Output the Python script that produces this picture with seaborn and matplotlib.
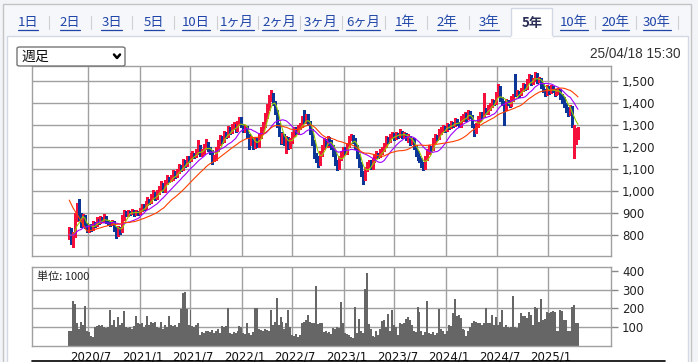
import matplotlib
matplotlib.use('Agg')
import matplotlib.pyplot as plt
from matplotlib.patches import Rectangle, FancyBboxPatch
from matplotlib.lines import Line2D
from matplotlib.transforms import ScaledTranslation
from matplotlib.ticker import FuncFormatter
import numpy as np
import pandas as pd
import seaborn as sns

# ---- weekly data (yen / thousand shares), last week ending 2025-04-18 ----
opens = [
    790, 820, 780, 800, 880, 935, 880, 850, 880, 845,
    825, 840, 830, 855, 845, 870, 860, 875, 865, 880,
    860, 855, 850, 860, 830, 800, 830, 820, 880, 900,
    895, 905, 900, 910, 895, 905, 900, 915, 930, 925,
    945, 960, 950, 975, 990, 970, 995, 1010, 1030, 1000,
    1040, 1060, 1050, 1060, 1080, 1070, 1090, 1110, 1100, 1130,
    1120, 1150, 1140, 1160, 1170, 1160, 1180, 1200, 1170, 1180,
    1200, 1220, 1190, 1180, 1140, 1150, 1190, 1220, 1240, 1230,
    1260, 1250, 1280, 1270, 1290, 1300, 1280, 1310, 1330, 1300,
    1280, 1290, 1250, 1220, 1240, 1200, 1230, 1210, 1250, 1280,
    1300, 1340, 1380, 1420, 1440, 1400, 1360, 1300, 1260, 1230,
    1250, 1220, 1240, 1200, 1230, 1260, 1280, 1270, 1290, 1300,
    1330, 1320, 1340, 1310, 1270, 1220, 1160, 1140, 1130, 1170,
    1200, 1230, 1210, 1240, 1220, 1200, 1170, 1130, 1110, 1150,
    1170, 1190, 1180, 1210, 1240, 1250, 1230, 1200, 1160, 1120,
    1080, 1060, 1100, 1120, 1130, 1110, 1140, 1160, 1170, 1160,
    1180, 1190, 1210, 1240, 1230, 1250, 1260, 1240, 1260, 1250,
    1270, 1250, 1260, 1240, 1240, 1220, 1230, 1200, 1170, 1150,
    1140, 1120, 1110, 1150, 1180, 1200, 1190, 1230, 1250, 1240,
    1270, 1280, 1290, 1280, 1300, 1290, 1310, 1300, 1320, 1310,
    1300, 1330, 1340, 1350, 1330, 1360, 1340, 1300, 1270, 1300,
    1330, 1350, 1340, 1370, 1360, 1380, 1390, 1410, 1400, 1440,
    1470, 1420, 1400, 1380, 1410, 1400, 1390, 1420, 1500, 1440,
    1450, 1440, 1460, 1480, 1470, 1500, 1520, 1490, 1510, 1530,
    1500, 1510, 1480, 1460, 1440, 1470, 1450, 1470, 1460, 1440,
    1450, 1460, 1430, 1420, 1390, 1370, 1350, 1380, 1200, 1220, 1240,
]
highs = [
    835, 830, 815, 900, 945, 965, 900, 895, 890, 855,
    850, 850, 865, 860, 880, 875, 885, 880, 895, 885,
    870, 865, 870, 865, 835, 840, 835, 890, 915, 910,
    915, 910, 920, 915, 915, 910, 925, 940, 940, 955,
    975, 965, 985, 1005, 995, 1005, 1025, 1045, 1035, 1050,
    1075, 1065, 1075, 1095, 1090, 1100, 1125, 1120, 1145, 1140,
    1160, 1160, 1175, 1180, 1175, 1190, 1230, 1210, 1190, 1215,
    1235, 1225, 1200, 1185, 1165, 1200, 1230, 1255, 1250, 1275,
    1270, 1295, 1290, 1305, 1315, 1305, 1320, 1336, 1335, 1305,
    1300, 1295, 1260, 1250, 1245, 1240, 1240, 1260, 1290, 1315,
    1355, 1395, 1435, 1460, 1445, 1410, 1370, 1310, 1270, 1265,
    1260, 1250, 1245, 1240, 1270, 1290, 1290, 1300, 1310, 1340,
    1370, 1350, 1350, 1320, 1280, 1230, 1175, 1160, 1180, 1210,
    1240, 1235, 1250, 1245, 1230, 1210, 1180, 1140, 1160, 1180,
    1200, 1200, 1220, 1250, 1260, 1255, 1240, 1210, 1170, 1130,
    1090, 1110, 1130, 1140, 1140, 1150, 1170, 1180, 1175, 1190,
    1200, 1220, 1250, 1245, 1260, 1270, 1265, 1270, 1265, 1280,
    1275, 1270, 1265, 1260, 1250, 1240, 1240, 1210, 1180, 1160,
    1150, 1130, 1160, 1190, 1210, 1205, 1240, 1260, 1255, 1280,
    1290, 1300, 1295, 1310, 1305, 1320, 1315, 1330, 1325, 1315,
    1340, 1350, 1360, 1355, 1370, 1365, 1345, 1305, 1310, 1340,
    1360, 1360, 1445, 1375, 1390, 1400, 1420, 1415, 1450, 1486,
    1475, 1425, 1410, 1420, 1415, 1405, 1430, 1440, 1530, 1460,
    1455, 1470, 1490, 1485, 1510, 1530, 1525, 1515, 1540, 1535,
    1520, 1515, 1490, 1465, 1480, 1475, 1480, 1475, 1465, 1460,
    1470, 1465, 1440, 1425, 1400, 1380, 1390, 1385, 1300, 1285, 1290,
]
lows = [
    780, 760, 745, 790, 865, 870, 835, 840, 830, 815,
    815, 820, 825, 835, 840, 850, 855, 860, 860, 855,
    845, 840, 845, 820, 785, 795, 805, 815, 870, 885,
    885, 890, 895, 885, 890, 890, 895, 910, 915, 920,
    935, 940, 945, 965, 960, 965, 985, 1000, 995, 995,
    1030, 1040, 1045, 1050, 1060, 1065, 1080, 1090, 1095, 1110,
    1115, 1130, 1135, 1150, 1150, 1155, 1170, 1160, 1160, 1170,
    1190, 1180, 1170, 1125, 1135, 1140, 1180, 1210, 1220, 1225,
    1240, 1245, 1260, 1265, 1280, 1270, 1275, 1300, 1290, 1270,
    1270, 1240, 1190, 1210, 1190, 1195, 1200, 1200, 1240, 1270,
    1290, 1330, 1370, 1410, 1390, 1350, 1290, 1250, 1215, 1220,
    1210, 1175, 1190, 1195, 1220, 1250, 1260, 1260, 1280, 1290,
    1310, 1310, 1300, 1260, 1210, 1150, 1130, 1110, 1120, 1160,
    1190, 1200, 1200, 1210, 1190, 1160, 1120, 1095, 1100, 1140,
    1160, 1170, 1170, 1200, 1230, 1220, 1190, 1150, 1110, 1070,
    1030, 1050, 1090, 1110, 1100, 1100, 1130, 1150, 1150, 1155,
    1170, 1180, 1200, 1220, 1225, 1240, 1230, 1235, 1240, 1245,
    1240, 1245, 1230, 1225, 1210, 1215, 1190, 1160, 1140, 1130,
    1110, 1095, 1100, 1140, 1170, 1180, 1185, 1220, 1230, 1235,
    1260, 1270, 1270, 1275, 1280, 1285, 1290, 1295, 1300, 1290,
    1290, 1320, 1335, 1320, 1325, 1330, 1290, 1250, 1265, 1290,
    1320, 1330, 1335, 1350, 1350, 1370, 1380, 1390, 1395, 1430,
    1410, 1390, 1300, 1370, 1390, 1380, 1385, 1410, 1430, 1435,
    1425, 1435, 1455, 1460, 1465, 1495, 1480, 1485, 1500, 1490,
    1495, 1470, 1450, 1430, 1435, 1440, 1445, 1450, 1430, 1435,
    1440, 1420, 1400, 1380, 1360, 1340, 1345, 1290, 1150, 1215, 1235,
]
closes = [
    820, 780, 800, 880, 930, 880, 850, 880, 845, 825,
    840, 830, 855, 845, 870, 860, 875, 865, 880, 860,
    855, 850, 860, 830, 800, 830, 815, 880, 900, 895,
    905, 900, 910, 895, 905, 900, 915, 930, 925, 945,
    960, 950, 975, 990, 970, 995, 1010, 1030, 1000, 1040,
    1060, 1050, 1060, 1080, 1070, 1090, 1110, 1100, 1130, 1120,
    1150, 1140, 1160, 1170, 1160, 1180, 1200, 1170, 1180, 1200,
    1220, 1190, 1180, 1140, 1150, 1190, 1220, 1240, 1230, 1260,
    1250, 1280, 1270, 1290, 1300, 1280, 1310, 1330, 1300, 1280,
    1290, 1250, 1220, 1240, 1200, 1230, 1210, 1250, 1280, 1300,
    1340, 1380, 1420, 1440, 1400, 1360, 1300, 1260, 1230, 1250,
    1220, 1240, 1200, 1230, 1260, 1280, 1270, 1290, 1300, 1330,
    1320, 1340, 1310, 1270, 1220, 1160, 1140, 1130, 1170, 1200,
    1230, 1210, 1240, 1220, 1200, 1170, 1130, 1110, 1150, 1170,
    1190, 1180, 1210, 1240, 1250, 1230, 1200, 1160, 1120, 1080,
    1060, 1100, 1120, 1130, 1110, 1140, 1160, 1170, 1160, 1180,
    1190, 1210, 1240, 1230, 1250, 1260, 1240, 1260, 1250, 1270,
    1250, 1260, 1240, 1240, 1220, 1230, 1200, 1170, 1150, 1140,
    1120, 1110, 1150, 1180, 1200, 1190, 1230, 1250, 1240, 1270,
    1280, 1290, 1280, 1300, 1290, 1310, 1300, 1320, 1310, 1300,
    1330, 1340, 1350, 1330, 1360, 1340, 1300, 1270, 1300, 1330,
    1350, 1340, 1370, 1360, 1380, 1390, 1410, 1400, 1440, 1470,
    1420, 1400, 1380, 1410, 1400, 1390, 1420, 1430, 1440, 1450,
    1440, 1460, 1480, 1470, 1500, 1520, 1490, 1510, 1530, 1500,
    1510, 1480, 1460, 1440, 1470, 1450, 1470, 1460, 1440, 1450,
    1460, 1430, 1420, 1390, 1370, 1350, 1380, 1300, 1290, 1270, 1275,
]
volumes = [
    80, 80, 240, 225, 120, 90, 130, 110, 215, 80,
    75, 55, 50, 100, 105, 110, 105, 110, 100, 95,
    100, 190, 110, 140, 100, 155, 110, 125, 185, 100,
    95, 100, 90, 105, 158, 120, 115, 120, 100, 110,
    158, 110, 130, 125, 130, 100, 95, 130, 90, 110,
    100, 158, 110, 105, 110, 100, 120, 195, 280, 290,
    195, 110, 190, 105, 100, 110, 120, 60, 75, 70,
    80, 80, 75, 85, 70, 80, 90, 70, 105, 100,
    105, 200, 70, 65, 75, 70, 80, 105, 100, 70,
    65, 125, 70, 60, 75, 200, 200, 90, 85, 80,
    90, 85, 80, 190, 110, 130, 255, 110, 155, 130,
    90, 120, 190, 100, 60, 55, 65, 50, 60, 125,
    130, 140, 165, 130, 120, 125, 320, 115, 125, 120,
    75, 80, 70, 75, 65, 95, 90, 100, 95, 235,
    120, 70, 65, 60, 50, 45, 210, 70, 145, 80,
    70, 305, 390, 115, 90, 55, 50, 80, 60, 90,
    135, 140, 100, 170, 80, 190, 110, 100, 60, 120,
    115, 120, 145, 155, 140, 110, 80, 75, 210, 180,
    80, 60, 75, 240, 70, 65, 75, 60, 70, 195,
    90, 80, 65, 80, 110, 105, 175, 250, 160, 165,
    150, 90, 85, 55, 80, 100, 125, 135, 130, 120,
    125, 110, 120, 200, 125, 125, 165, 110, 155, 110,
    130, 190, 100, 110, 100, 95, 100, 265, 100, 95,
    120, 175, 160, 160, 150, 180, 165, 110, 210, 200,
    130, 250, 140, 145, 180, 175, 180, 185, 180, 80,
    80, 190, 185, 140, 140, 80, 80, 210, 220, 125, 120,
]
# closes before the displayed window, only used to seed the moving averages
pre_closes = [1250, 1270, 1260, 1280, 1250, 1265, 1255, 1270, 1240,
              810, 790, 800, 780, 805, 795, 810, 790, 800, 815, 785,
              800, 810, 790, 805, 795]
ma_windows = [5, 13, 26]

price_ticks = [800, 900, 1000, 1100, 1200, 1300, 1400, 1500]
volume_ticks = [100, 200, 300, 400]
date_ticks = ['2020-07-01', '2021-01-01', '2021-07-01', '2022-01-01', '2022-07-01',
              '2023-01-01', '2023-07-01', '2024-01-01', '2024-07-01', '2025-01-01']
date_labels = ['2020/7', '2021/1', '2021/7', '2022/1', '2022/7',
               '2023/1', '2023/7', '2024/1', '2024/7', '2025/1']
tab_labels = ['1日', '2日', '3日', '5日', '10日', '1ヶ月', '2ヶ月', '3ヶ月', '6ヶ月',
              '1年', '2年', '3年', '5年', '10年', '20年', '30年']
active_tab = '5年'
timestamp = '25/04/18 15:30'

n = len(closes)
assert len(opens) == n and len(highs) == n and len(lows) == n and len(volumes) == n, \
    (len(opens), len(highs), len(lows), len(closes), len(volumes))

df = pd.DataFrame({
    'date': pd.date_range(end='2025-04-18', periods=n, freq='W-FRI'),
    'open': opens, 'high': highs, 'low': lows, 'close': closes, 'volume': volumes,
})
all_close = pd.Series(pre_closes + closes, dtype=float)
for w in ma_windows:
    df[f'ma{w}'] = all_close.rolling(w).mean().iloc[-n:].to_numpy()
df['up'] = df['close'] >= df['open']

# ---- figure / layout (pixel helpers, y measured from the top) ----
W, H = 698, 362
sns.set_style('white')
plt.rcParams['font.family'] = ['DejaVu Sans', 'Noto Sans CJK JP']
fig = plt.figure(figsize=(W / 100, H / 100), dpi=100)
fig.patch.set_facecolor('white')


def fx(x):
    return x / W


def fy(y):
    return 1 - y / H


def rect(x0, y0, x1, y1, **kw):
    r = Rectangle((fx(x0), fy(y1)), fx(x1) - fx(x0), fy(y0) - fy(y1),
                  transform=fig.transFigure, zorder=-5, **kw)
    fig.add_artist(r)


def hline(x0, x1, y, **kw):
    fig.add_artist(Line2D([fx(x0), fx(x1)], [fy(y), fy(y)], transform=fig.transFigure, **kw))


def vline(x, y0, y1, **kw):
    fig.add_artist(Line2D([fx(x), fx(x)], [fy(y0), fy(y1)], transform=fig.transFigure, **kw))


# page frame, tab strip, content panel
rect(0, 0, W, H, facecolor='#f3f4f7', edgecolor='none')
rect(3, 4, 691, H + 2, facecolor='#f6f7fa', edgecolor='#c4c4c4', linewidth=1)
rect(7, 36, 688, H + 2, facecolor='white', edgecolor='#d3d9e4', linewidth=1)
rect(511, 8, 552, 37, facecolor='white', edgecolor='#d3d9e4', linewidth=1)
hline(511.5, 551.5, 36.5, color='white', lw=1.5, zorder=-4)

tab_x = [28, 70, 111.5, 154, 196, 237, 279, 321, 363, 405.5, 447, 489, 532, 574, 615.5, 657]
sep_x = [49, 91, 132, 174, 217, 258, 300, 342, 385, 427, 469, 595, 636, 678]
renderer = fig.canvas.get_renderer()
for lab, x in zip(tab_labels, tab_x):
    if lab == active_tab:
        fig.text(fx(x), fy(22.5), lab, ha='center', va='center', fontsize=9.5,
                 fontweight='bold', color='#2b2f55', family=['Noto Sans CJK JP', 'DejaVu Sans'])
    else:
        t = fig.text(fx(x), fy(22.5), lab, ha='center', va='center', fontsize=9.5,
                     color='#1f45a8', family=['Noto Sans CJK JP', 'DejaVu Sans'])
        bb = t.get_window_extent(renderer)
        hline(bb.x0, bb.x1, 29.5, color='#1f45a8', lw=0.9)
for x in sep_x:
    vline(x, 16, 29, color='#d0d0d0', lw=0.8)

# dropdown
box = FancyBboxPatch((fx(17), fy(66)), fx(125) - fx(17), fy(47) - fy(66),
                     boxstyle='round,pad=0,rounding_size=0.004', transform=fig.transFigure,
                     facecolor='white', edgecolor='#767676', linewidth=1, zorder=1)
fig.add_artist(box)
fig.text(fx(21), fy(56.5), '週足', ha='left', va='center', fontsize=10,
         color='#111111', family=['Noto Sans CJK JP', 'DejaVu Sans'])
fig.add_artist(Line2D([fx(114), fx(117), fx(120)], [fy(54.5), fy(58), fy(54.5)],
                      transform=fig.transFigure, color='black', lw=1.8))
fig.text(fx(680), fy(54), timestamp, ha='right', va='center', fontsize=9.8,
         color='#333333', family='Liberation Sans')

# ---- price panel ----
grid_c = '#a0a0a0'
red, blue = '#f5103c', '#0b3596'
ma_colors = ['#9acd00', '#a000ff', '#ff4000']
xlim = (pd.Timestamp('2019-12-13'), pd.Timestamp('2025-08-14'))
gdates = pd.to_datetime(date_ticks)

ax_p = fig.add_axes([fx(32), fy(256), fx(611) - fx(32), (256 - 66) / H])
ax_v = fig.add_axes([fx(32), fy(346), fx(611) - fx(32), (346 - 267) / H])

for ax in (ax_p, ax_v):
    ax.set_xlim(xlim)
    ax.set_facecolor('white')
    for s in ax.spines.values():
        s.set_color(grid_c)
        s.set_linewidth(1)
    ax.set_xticks(gdates)
    ax.grid(True, color=grid_c, linewidth=1)
    ax.set_axisbelow(True)
    ax.yaxis.tick_right()
    ax.tick_params(axis='y', direction='out', length=5, width=1, color='#888888',
                   labelsize=8.5, labelcolor='#222222', pad=3)

cols = np.where(df['up'], red, blue)
body_lo = np.minimum(df['open'], df['close'])
body_h = np.maximum(np.abs(df['close'] - df['open']), 3)
ax_p.vlines(df['date'], df['low'], df['high'], colors=cols, linewidth=1.0,
            antialiased=False, zorder=2)
ax_p.bar(df['date'], body_h, bottom=body_lo, width=6.5, color=cols, linewidth=0,
         antialiased=False, zorder=2)
for w, c in zip(ma_windows, ma_colors):
    sns.lineplot(x=df['date'], y=df[f'ma{w}'], ax=ax_p, color=c, linewidth=0.8,
                 errorbar=None, zorder=3)
ax_p.set_ylim(705, 1568)
ax_p.set_yticks(price_ticks)
ax_p.yaxis.set_major_formatter(FuncFormatter(lambda v, p: f'{int(v):,}'))
ax_p.tick_params(axis='x', length=0, labelbottom=False)
ax_p.set_xlabel('')
ax_p.set_ylabel('')

# ---- volume panel ----
ax_v.bar(df['date'], df['volume'], width=7, color='#666666', linewidth=0,
         antialiased=False, zorder=2)
ax_v.set_ylim(0, 421)
ax_v.set_yticks(volume_ticks)
ax_v.get_ygridlines()[-1].set_visible(False)
ax_v.set_xticklabels(date_labels)
ax_v.tick_params(axis='x', length=0, labelsize=8.5, labelcolor='#111111', pad=3)
for lab in ax_v.get_xticklabels():
    lab.set_transform(lab.get_transform() + ScaledTranslation(0.03, 0, fig.dpi_scale_trans))
ax_v.text(0.008, 0.95, '単位: 1000', transform=ax_v.transAxes, ha='left', va='top',
          fontsize=8, color='#222222', family=['Noto Sans CJK JP', 'DejaVu Sans'], zorder=5)
ax_v.set_xlabel('')
ax_v.set_ylabel('')

hline(32, 665, 360.5, color='black', lw=1.2)

fig.savefig('out.png', dpi=100)
